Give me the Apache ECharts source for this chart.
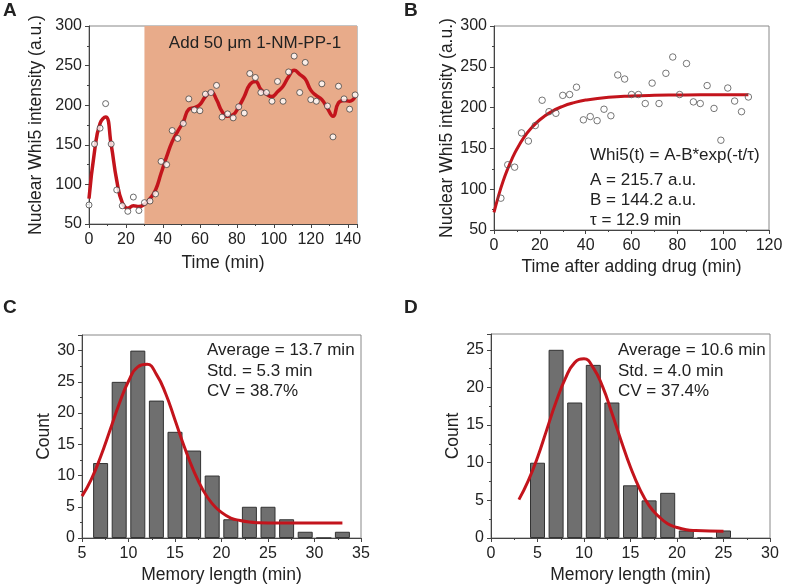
<!DOCTYPE html>
<html>
<head>
<meta charset="utf-8">
<script src="https://cdn.jsdelivr.net/npm/echarts@6/dist/echarts.min.js"></script>
<style>html,body{margin:0;padding:0;background:#fff}#c{width:789px;height:585px}</style>
</head>
<body>
<div id="c"></div>
<script>
// ---- Panel A: Whi5 time course ----
const timeA = [0,3,6,9,12,15,18,21,24,27,30,33,36,39,42,45,48,51,54,57,60,63,66,69,72,75,78,81,84,87,90,93,96,99,102,105,108,111,114,117,120,123,126,129,132,135,138,141,144];
const intensityA = [74,151,171,202,151,93,73,66,84,67,77,79,88,129,125,168,158,177,208,194,193,214,216,225,185,189,184,198,190,240,235,216,216,205,230,205,242,262,216,254,207,205,227,199,160,224,208,195,213];
const smoothA = [82,142,177,185,150,105,77,70,73,72,75,82,93,114,135,154,167,179,195,197,201,211,217,207,192,186,188,198,211,226,230,220,214,211,217,224,236,244,239,233,219,212,207,196,186,203,206,205,211];
const drugStartA = 30;
const drugEndA = 145;
const drugLabel = 'Add 50 μm 1-NM-PP-1';

// ---- Panel B: after adding drug ----
const timeB = [3,6,9,12,15,18,21,24,27,30,33,36,39,42,45,48,51,54,57,60,63,66,69,72,75,78,81,84,87,90,93,96,99,102,105,108,111];
const intensityB = [89,130,127,169,159,178,209,195,193,215,216,225,185,189,184,198,190,240,235,216,216,205,230,205,242,262,216,254,207,205,227,199,160,224,208,195,213];
const fitTimeB = [0,2,4,6,8,10,13,16,20,25,30,35,40,50,60,70,80,90,100,111];
const fitValB = [71.5,92.2,110,125.1,138.1,149.3,163.1,174,185.1,194.9,201.6,206.1,209.2,212.7,214.3,215.1,215.4,215.6,215.6,215.7];
const fitTextB = ['Whi5(t) = A-B*exp(-t/τ)','A = 215.7 a.u.','B = 144.2 a.u.','τ = 12.9 min'];

// ---- Panel C: memory length histogram ----
const binC = [7,9,11,13,15,17,19,21,23,25,27,29,31,33];
const countC = [12,25,30,22,17,14,10,3,5,5,3,1,0,1];
const curveXC = [5,6,7,8,9,10,11,12,13,14,15,16,17,18,19,20,21,22,23,24,26,28,30,33];
const curveYC = [6.7,9.4,13.0,17.2,21.5,25.1,27.4,27.8,26.2,23.1,18.9,14.6,10.8,7.7,5.5,4.1,3.2,2.8,2.55,2.45,2.4,2.4,2.4,2.4];
const statsC = ['Average = 13.7 min','Std. = 5.3 min','CV = 38.7%'];

// ---- Panel D: memory length histogram ----
const binD = [5,7,9,11,13,15,17,19,21,23,25];
const countD = [10,25,18,23,18,7,5,6,1,0,1];
const curveXD = [3,4,5,6,7,8,9,10,11,12,13,14,15,16,17,18,19,20,21,22,25];
const curveYD = [5.1,7.6,10.7,14.4,18.1,21.2,23.3,23.8,22.6,20.1,16.6,12.9,9.4,6.5,4.3,2.9,1.9,1.4,1.1,1.0,0.9];
const statsD = ['Average = 10.6 min','Std. = 4.0 min','CV = 37.4%'];

const FONT = "'Liberation Sans', Arial, Helvetica, sans-serif";
const RED = '#c3141c';
const AX = '#444';

function pair(xs, ys){ return xs.map((x,i)=>[x, ys[i]]); }
function fmt(step){ return function(v){ return (Math.abs(v/step - Math.round(v/step)) < 1e-6) ? String(Math.round(v)) : ''; }; }

function axis(o){
  return Object.assign({
    type:'value',
    nameLocation:'middle',
    nameTextStyle:{color:'#222', fontSize:17.5, fontFamily:FONT},
    axisLine:{show:true, onZero:false, lineStyle:{color:AX, width:1}},
    axisTick:{show:true, inside:false, length:4, lineStyle:{color:AX}},
    minorTick:{show:true, splitNumber:2, length:2, lineStyle:{color:AX}},
    splitLine:{show:false},
    axisLabel:{color:'#222', fontSize:16, fontFamily:FONT, margin:7}
  }, o);
}

const grids = [
  {left:89, top:26, width:268, height:198},
  {left:494, top:26, width:275, height:204},
  {left:82, top:335, width:279, height:205},
  {left:491, top:334, width:279, height:206}
].map(g => Object.assign({show:true, borderColor:'#888', borderWidth:1, backgroundColor:'transparent'}, g));

const xAxes = [
  axis({gridIndex:0, min:0, max:drugEndA, interval:20, name:'Time (min)', nameGap:30, axisLabel:{color:'#222', fontSize:16, fontFamily:FONT, margin:8, formatter:fmt(20)}}),
  axis({gridIndex:1, min:0, max:120, interval:20, name:'Time after adding drug (min)', nameGap:28, axisLabel:{color:'#222', fontSize:16, fontFamily:FONT, margin:8}}),
  axis({gridIndex:2, min:5, max:35, interval:5, name:'Memory length (min)', nameGap:28, axisLabel:{color:'#222', fontSize:16, fontFamily:FONT, margin:8}}),
  axis({gridIndex:3, min:0, max:30, interval:5, name:'Memory length (min)', nameGap:28, axisLabel:{color:'#222', fontSize:16, fontFamily:FONT, margin:8}})
];
const yAxes = [
  axis({gridIndex:0, min:50, max:300, interval:50, name:'Nuclear Whi5 intensity (a.u.)', nameGap:44}),
  axis({gridIndex:1, min:50, max:300, interval:50, name:'Nuclear Whi5 intensity (a.u.)', nameGap:38}),
  axis({gridIndex:2, min:0, max:32.5, interval:5, name:'Count', nameGap:28, axisLabel:{color:'#222', fontSize:16, fontFamily:FONT, margin:7, formatter:fmt(5)}}),
  axis({gridIndex:3, min:0, max:27.1, interval:5, name:'Count', nameGap:28, axisLabel:{color:'#222', fontSize:16, fontFamily:FONT, margin:7, formatter:fmt(5)}})
];

const series = [
  {type:'line', xAxisIndex:0, yAxisIndex:0, data:pair(timeA, smoothA), smooth:0.5, showSymbol:false,
   lineStyle:{color:RED, width:3.5}, z:3,
   markArea:{silent:true, itemStyle:{color:'#e8ab8a'}, data:[[{xAxis:drugStartA},{xAxis:drugEndA}]]}},
  {type:'scatter', xAxisIndex:0, yAxisIndex:0, data:pair(timeA, intensityA), symbol:'circle', symbolSize:6,
   itemStyle:{color:'#fff', borderColor:'#333', borderWidth:0.9}, z:4},
  {type:'scatter', xAxisIndex:1, yAxisIndex:1, data:pair(timeB, intensityB), symbol:'circle', symbolSize:6.5,
   itemStyle:{color:'rgba(255,255,255,0)', borderColor:'#555', borderWidth:1}, z:4},
  {type:'line', xAxisIndex:1, yAxisIndex:1, data:pair(fitTimeB, fitValB), smooth:true, showSymbol:false,
   lineStyle:{color:RED, width:3}, z:3},
  {type:'bar', xAxisIndex:2, yAxisIndex:2, data:pair(binC, countC), barWidth:15,
   itemStyle:{color:'#6f6f6f', borderColor:'#333', borderWidth:1}, z:2},
  {type:'line', xAxisIndex:2, yAxisIndex:2, data:pair(curveXC, curveYC), smooth:true, showSymbol:false,
   lineStyle:{color:RED, width:3}, z:3},
  {type:'bar', xAxisIndex:3, yAxisIndex:3, data:pair(binD, countD), barWidth:15,
   itemStyle:{color:'#6f6f6f', borderColor:'#333', borderWidth:1}, z:2},
  {type:'line', xAxisIndex:3, yAxisIndex:3, data:pair(curveXD, curveYD), smooth:true, showSymbol:false,
   lineStyle:{color:RED, width:3}, z:3}
];

function txt(x, y, s, opt){
  return {type:'text', x:x, y:y, z:100, style:Object.assign({text:s, fill:'#222', font:'17px ' + FONT, textAlign:'left', textVerticalAlign:'middle'}, opt||{})};
}
const graphics = [
  txt(3, 11, 'A', {font:'bold 19px ' + FONT}),
  txt(404, 11, 'B', {font:'bold 19px ' + FONT}),
  txt(3, 308, 'C', {font:'bold 19px ' + FONT}),
  txt(404, 308, 'D', {font:'bold 19px ' + FONT}),
  txt(255, 43, drugLabel, {textAlign:'center', font:'17px ' + FONT})
];
const yB = [155,180,200,220];
fitTextB.forEach((s,i)=>graphics.push(txt(590, yB[i], s)));
const yS = [350,371,391];
statsC.forEach((s,i)=>graphics.push(txt(207, yS[i], s)));
statsD.forEach((s,i)=>graphics.push(txt(618, yS[i], s)));

const chart = echarts.init(document.getElementById('c'), null, {renderer:'canvas'});
chart.setOption({
  animation:false,
  backgroundColor:'#fff',
  textStyle:{fontFamily:FONT},
  grid:grids, xAxis:xAxes, yAxis:yAxes, series:series, graphic:graphics
});
</script>
</body>
</html>
